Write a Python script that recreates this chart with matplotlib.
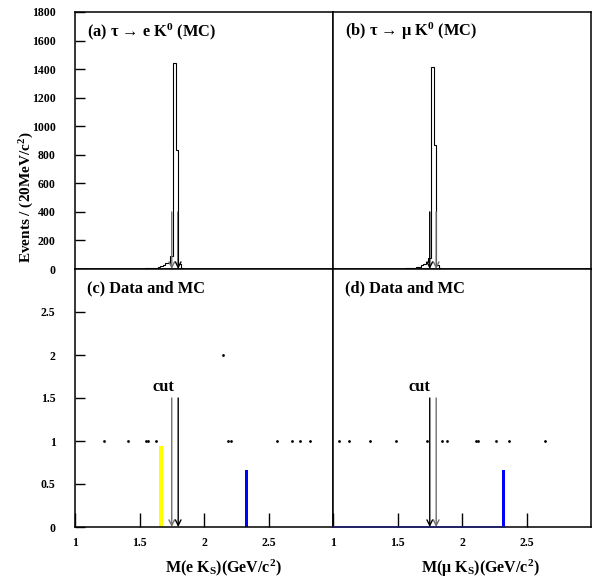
import matplotlib
matplotlib.use("Agg")
import matplotlib.pyplot as plt
import numpy as np

plt.rcParams['font.family'] = ['Liberation Serif', 'DejaVu Serif']
plt.rcParams['font.weight'] = 'bold'
plt.rcParams['mathtext.fontset'] = 'custom'
plt.rcParams['mathtext.rm'] = 'Liberation Serif:bold'
plt.rcParams['mathtext.it'] = 'Liberation Serif:bold'
plt.rcParams['mathtext.bf'] = 'Liberation Serif:bold'

# ---- MC histograms (20 MeV bins), bin lower edges and counts ----
mc_bin_lo = [1.10, 1.12, 1.14, 1.16, 1.18, 1.20, 1.22, 1.24, 1.26, 1.28,
             1.30, 1.32, 1.34, 1.36, 1.38, 1.40, 1.42, 1.44, 1.46, 1.48,
             1.50, 1.52, 1.54, 1.56, 1.58, 1.60, 1.62, 1.64, 1.66, 1.68,
             1.70, 1.72, 1.74, 1.76, 1.78, 1.80, 1.82]
mc_e_counts = [2, 0, 3, 1, 0, 2, 0, 1, 3, 0,
               1, 2, 0, 1, 2, 1, 0, 2, 1, 2,
               3, 2, 4, 5, 6, 8, 10, 14, 18, 28,
               45, 40, 90, 1445, 833, 35, 6]
mc_mu_counts = [0, 1, 0, 2, 0, 1, 1, 0, 2, 0,
                1, 0, 2, 1, 0, 2, 1, 0, 2, 1,
                2, 3, 3, 4, 5, 6, 8, 11, 16, 25,
                38, 50, 80, 1417, 868, 30, 5]
bin_width = 0.02

# ---- Data points (events) ----
data_c_x = [1.227, 1.408, 1.550, 1.568, 1.628, 2.188, 2.209, 2.568, 2.684, 2.747, 2.824, 2.145]
data_c_y = [1, 1, 1, 1, 1, 1, 1, 1, 1, 1, 1, 2]
data_d_x = [1.047, 1.126, 1.287, 1.486, 1.726, 1.847, 1.886, 2.106, 2.122, 2.261, 2.364, 2.643]
data_d_y = [1, 1, 1, 1, 1, 1, 1, 1, 1, 1, 1, 1]

# ---- MC bars in lower panels ----
bar_c_x = [1.665, 2.328]
bar_c_h = [0.94, 0.66]
bar_c_col = ['#ffff00', '#0000ff']
bar_d_x = [2.323]
bar_d_h = [0.66]
bar_d_col = ['#0000ff']

# ---- Cut positions ----
cut_lo = 1.75
cut_hi = 1.80

top_yticks = [0, 200, 400, 600, 800, 1000, 1200, 1400, 1600, 1800]
bot_yticks = [0, 0.5, 1, 1.5, 2, 2.5]
bot_yticklabels = ['0', '0.5', '1', '1.5', '2', '2.5']
xticks = [1, 1.5, 2, 2.5]
xticklabels = ['1', '1.5', '2', '2.5']

fig = plt.figure(figsize=(5.92, 5.80), dpi=100)
L = 75 / 592
W = 258 / 592
top_b = 1 - 269 / 580
top_h = 257 / 580
bot_b = 1 - 527 / 580
bot_h = 258 / 580

ax_a = fig.add_axes([L, top_b, W, top_h])
ax_b = fig.add_axes([L + W, top_b, W, top_h])
ax_c = fig.add_axes([L, bot_b, W, bot_h])
ax_d = fig.add_axes([L + W, bot_b, W, bot_h])

for ax in (ax_a, ax_b, ax_c, ax_d):
    ax.set_xlim(1, 3)
    for s in ax.spines.values():
        s.set_linewidth(1.1)
    ax.tick_params(direction='in', length=7, width=1.0, labelsize=8.5,
                   top=False, right=False)

edges = list(mc_bin_lo) + [mc_bin_lo[-1] + bin_width]
TFS = 11.8

def cut_arrows(ax, y0, colors):
    for xc, col in zip((cut_lo, cut_hi), colors):
        ax.annotate('', xy=(xc, 0), xytext=(xc, y0),
                    arrowprops=dict(arrowstyle='->', color=col, lw=1.0,
                                    mutation_scale=10, shrinkA=0, shrinkB=0))

# (a)
ax_a.stairs(mc_e_counts, edges, color='black', lw=0.8)
ax_a.set_ylim(0, 1800)
ax_a.set_yticks(top_yticks)
ax_a.set_yticklabels([str(v) for v in top_yticks])
ax_a.tick_params(axis='y', pad=14)
ax_a.set_xticks([])
cut_arrows(ax_a, 400, ['#707070', 'black'])
ax_a.text(0.045, 0.925, r'(a) τ → e K$^{0}$ (MC)', transform=ax_a.transAxes,
          fontsize=TFS, fontweight='bold', va='center', ha='left')

# (b)
ax_b.stairs(mc_mu_counts, edges, color='black', lw=0.8)
ax_b.set_ylim(0, 1800)
ax_b.set_yticks([])
ax_b.set_xticks([])
cut_arrows(ax_b, 400, ['black', '#707070'])
ax_b.text(0.045, 0.925, r'(b) τ → μ K$^{0}$ (MC)', transform=ax_b.transAxes,
          fontsize=TFS, fontweight='bold', va='center', ha='left')

# (c)
ax_c.set_ylim(0, 3)
for xb, hb, cb in zip(bar_c_x, bar_c_h, bar_c_col):
    ax_c.bar(xb, hb, width=0.028, color=cb, linewidth=0)
ax_c.plot(data_c_x, data_c_y, 'o', color='black', ms=2.0, mew=0)
cut_arrows(ax_c, 1.5, ['#707070', 'black'])
ax_c.text(1.685, 1.63, 'cut', fontsize=TFS, fontweight='bold', ha='center', va='center')
ax_c.set_yticks(bot_yticks)
ax_c.set_yticklabels(bot_yticklabels)
ax_c.tick_params(axis='y', pad=14)
ax_c.set_xticks(xticks)
ax_c.set_xticklabels(xticklabels)
ax_c.tick_params(axis='x', length=10, pad=7)
ax_c.text(0.045, 0.925, '(c) Data and MC', transform=ax_c.transAxes,
          fontsize=TFS, fontweight='bold', va='center', ha='left')

# (d)
ax_d.set_ylim(0, 3)
ax_d.plot([1.0, 2.33], [0.004, 0.004], color='#202070', lw=1.2, clip_on=False, zorder=3)
for xb, hb, cb in zip(bar_d_x, bar_d_h, bar_d_col):
    ax_d.bar(xb, hb, width=0.028, color=cb, linewidth=0)
ax_d.plot(data_d_x, data_d_y, 'o', color='black', ms=2.0, mew=0)
cut_arrows(ax_d, 1.5, ['black', '#707070'])
ax_d.text(1.67, 1.63, 'cut', fontsize=TFS, fontweight='bold', ha='center', va='center')
ax_d.set_yticks([])
ax_d.set_xticks(xticks)
ax_d.set_xticklabels(xticklabels)
ax_d.tick_params(axis='x', length=10, pad=7)
ax_d.text(0.045, 0.925, '(d) Data and MC', transform=ax_d.transAxes,
          fontsize=TFS, fontweight='bold', va='center', ha='left')

# Axis titles
fig.text(223 / 592, 1 - 568 / 580, r'M(e K$_{S}$)(GeV/c$^{2}$)', fontsize=11.5,
         fontweight='bold', ha='center', va='center')
fig.text(480 / 592, 1 - 568 / 580, r'M(μ K$_{S}$)(GeV/c$^{2}$)', fontsize=11.5,
         fontweight='bold', ha='center', va='center')
fig.text(27 / 592, 1 - 197 / 580, r'Events / (20MeV/c$^{2}$)', fontsize=11,
         fontweight='bold', ha='center', va='center', rotation=90)

fig.savefig('out.png', dpi=100)
